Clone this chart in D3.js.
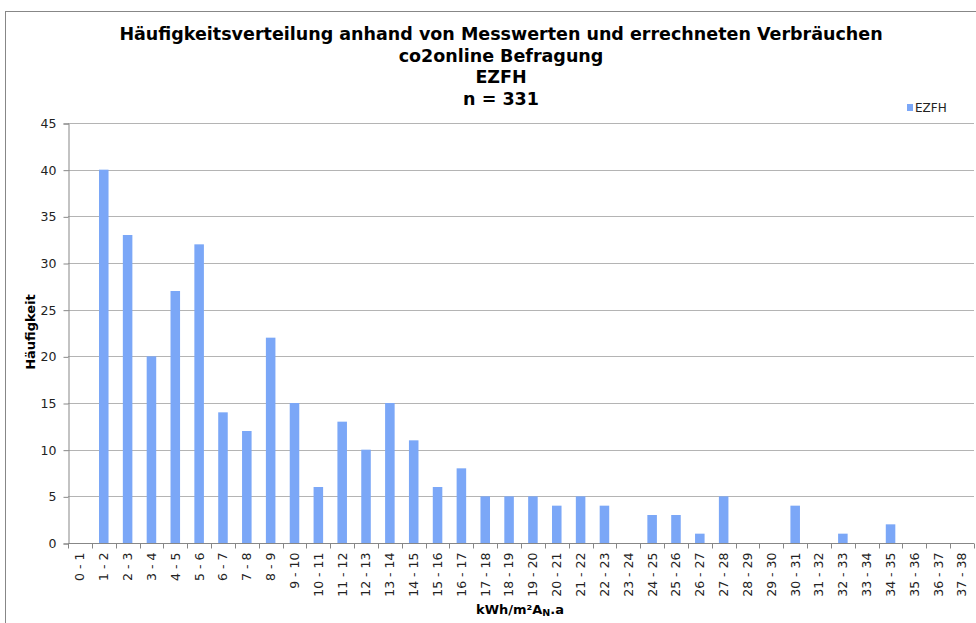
<!DOCTYPE html>
<html>
<head>
<meta charset="utf-8">
<script src="https://cdn.jsdelivr.net/npm/d3@7"></script>
<style>
  body { margin: 0; background: #fff; }
  svg { display: block; font-family: "DejaVu Sans", Verdana, sans-serif; }
</style>
</head>
<body>
<div id="chart"></div>
<script>
// data
const categories = ['0 - 1', '1 - 2', '2 - 3', '3 - 4', '4 - 5', '5 - 6', '6 - 7', '7 - 8', '8 - 9', '9 - 10',
  '10 - 11', '11 - 12', '12 - 13', '13 - 14', '14 - 15', '15 - 16', '16 - 17', '17 - 18', '18 - 19', '19 - 20',
  '20 - 21', '21 - 22', '22 - 23', '23 - 24', '24 - 25', '25 - 26', '26 - 27', '27 - 28', '28 - 29', '29 - 30',
  '30 - 31', '31 - 32', '32 - 33', '33 - 34', '34 - 35', '35 - 36', '36 - 37', '37 - 38'];
const counts = [0, 40, 33, 20, 27, 32, 14, 12, 22, 15,
  6, 13, 10, 15, 11, 6, 8, 5, 5, 5,
  4, 5, 4, 0, 3, 3, 1, 5, 0, 0,
  4, 0, 1, 0, 2, 0, 0, 0];
const yTicks = [0, 5, 10, 15, 20, 25, 30, 35, 40, 45];
const titleLines = ['Häufigkeitsverteilung anhand von Messwerten und errechneten Verbräuchen',
  'co2online Befragung', 'EZFH', 'n = 331'];
const seriesName = 'EZFH';

const width = 976, height = 623;
const margin = { top: 123, right: 2, bottom: 80, left: 68 }; // plot area edges
const barColor = '#7ba7f7', gridColor = '#b4b4b4', axisColor = '#878787';

const svg = d3.select('#chart').append('svg')
  .attr('width', width)
  .attr('height', height);

// outer frame (cut off at right/bottom like the screenshot)
svg.append('rect')
  .attr('x', 5.5).attr('y', 11.5)
  .attr('width', width + 10).attr('height', height + 10)
  .attr('fill', 'none').attr('stroke', axisColor);

const x = d3.scaleBand()
  .domain(categories)
  .range([margin.left, width - margin.right])
  .paddingInner(0.6)
  .paddingOuter(0.3);
const xEdge = d3.scaleLinear()
  .domain([0, categories.length])
  .range([margin.left, width - margin.right]);
const y = d3.scaleLinear()
  .domain([0, 45])
  .range([height - margin.bottom, margin.top]);

// gridlines
svg.append('g')
  .selectAll('line')
  .data(yTicks.slice(1))
  .enter().append('line')
    .attr('x1', margin.left).attr('x2', width - margin.right)
    .attr('y1', d => Math.round(y(d)) + 0.5).attr('y2', d => Math.round(y(d)) + 0.5)
    .attr('stroke', gridColor);

// y axis
const yAxis = svg.append('g')
  .attr('transform', `translate(${margin.left + 0.5},0.5)`)
  .call(d3.axisLeft(y).tickValues(yTicks).tickSize(5).tickPadding(7));
yAxis.selectAll('line, path').attr('stroke', axisColor);
yAxis.selectAll('text').attr('font-size', 12.5).attr('fill', '#222')
  .attr('font-family', '"DejaVu Sans", Verdana, sans-serif');

// bars
svg.append('g')
  .selectAll('rect')
  .data(counts)
  .enter().append('rect')
    .attr('x', (d, i) => x(categories[i]))
    .attr('width', x.bandwidth())
    .attr('y', d => y(d))
    .attr('height', d => y(0) - y(d))
    .attr('fill', barColor);

// x axis (ticks between categories)
const x0 = Math.round(y(0)) + 0.5;
svg.append('line')
  .attr('x1', margin.left).attr('x2', width - margin.right)
  .attr('y1', x0).attr('y2', x0)
  .attr('stroke', axisColor);
svg.append('g')
  .selectAll('line')
  .data(d3.range(categories.length + 1))
  .enter().append('line')
    .attr('x1', d => Math.round(xEdge(d)) + 0.5).attr('x2', d => Math.round(xEdge(d)) + 0.5)
    .attr('y1', x0).attr('y2', x0 + 5)
    .attr('stroke', axisColor);
svg.append('g')
  .selectAll('text')
  .data(categories)
  .enter().append('text')
    .attr('transform', d => `translate(${x(d) + x.bandwidth() / 2},${x0 + 9}) rotate(-90)`)
    .attr('text-anchor', 'end')
    .attr('dy', '0.35em')
    .attr('font-size', 12.5)
    .attr('fill', '#222')
    .text(d => d);

// title
svg.append('g')
  .selectAll('text')
  .data(titleLines)
  .enter().append('text')
    .attr('x', 501)
    .attr('y', (d, i) => 40 + i * 21.5)
    .attr('text-anchor', 'middle')
    .attr('font-size', 17.5)
    .attr('font-weight', 'bold')
    .attr('fill', '#000')
    .text(d => d);

// axis titles
svg.append('text')
  .attr('transform', 'translate(35,332) rotate(-90)')
  .attr('text-anchor', 'middle')
  .attr('font-size', 13)
  .attr('font-weight', 'bold')
  .text('Häufigkeit');

const xTitle = svg.append('text')
  .attr('x', 520).attr('y', 614)
  .attr('text-anchor', 'middle')
  .attr('font-size', 13)
  .attr('font-weight', 'bold');
xTitle.append('tspan').text('kWh/m²A');
xTitle.append('tspan').attr('font-size', 9.5).attr('dy', 2).text('N');
xTitle.append('tspan').attr('dy', -2).text('.a');

// legend
svg.append('rect')
  .attr('x', 907).attr('y', 104)
  .attr('width', 6).attr('height', 7)
  .attr('fill', barColor);
svg.append('text')
  .attr('x', 915).attr('y', 112)
  .attr('font-size', 12)
  .attr('fill', '#222')
  .text(seriesName);
</script>
</body>
</html>
